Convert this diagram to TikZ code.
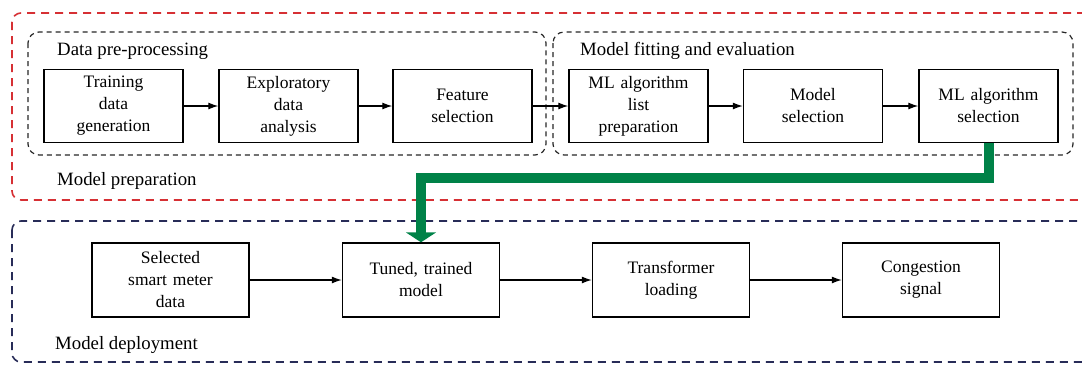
\documentclass[tikz,border=0pt]{standalone}
\usepackage{fontspec}
\setmainfont{Liberation Serif}
\usetikzlibrary{arrows.meta,positioning}
\definecolor{redd}{RGB}{214,48,52}
\definecolor{navyd}{RGB}{40,44,88}
\definecolor{greend}{RGB}{0,130,72}
\begin{document}
\begin{tikzpicture}[x=1pt,y=-1pt,
  procbox/.style={draw=black,line width=1.4pt,align=center,inner sep=2pt,
    font=\fontsize{17.5}{22}\selectfont},
  topbox/.style={procbox,minimum width=139pt,minimum height=73pt,text width=134pt},
  botbox/.style={procbox,minimum width=157pt,minimum height=74pt,text width=150pt},
  flow/.style={-{Latex[length=10pt,width=7pt]},line width=1.2pt},
  groupbox/.style={dash pattern=on 5pt off 4pt,line width=1.2pt,draw=black!85,rounded corners=11pt},
  outerred/.style={dash pattern=on 8pt off 6pt,line width=1.6pt,draw=redd,rounded corners=9pt},
  outernavy/.style={dash pattern=on 8pt off 6pt,line width=1.6pt,draw=navyd,rounded corners=9pt},
  lbl/.style={anchor=west,inner sep=0pt,font=\fontsize{18.8}{22}\selectfont},
  greenline/.style={draw=greend,line width=10pt,line join=miter,
    -{Triangle[length=10pt,width=30pt]}}
]
\useasboundingbox (0,0) rectangle (1082,365);
\begin{scope}
\clip (0,0) rectangle (1082,365);
% outer containers
\draw[outerred] (12,13) rectangle (1100,200);
\draw[outernavy] (12,221) rectangle (1100,362);
\end{scope}
% group containers
\draw[groupbox] (28,32) rectangle (546,155);
\draw[groupbox] (553,32) rectangle (1073,155);
% labels
\node[lbl] (lpre) at (57,51) {Data pre-processing};
\node[lbl] (lfit) at (580,51) {Model fitting and evaluation};
\node[lbl] (lprep) at (57,181) {Model preparation};
\node[lbl] (ldep) at (55,345) {Model deployment};
% top row
\node[topbox] (train) at (113.5,106) {Training\\data\\generation};
\node[topbox] (explo) at (288.5,106) {Exploratory\\data\\analysis};
\node[topbox] (feat)  at (462.5,106) {Feature\\selection};
\node[topbox] (mllist) at (638.5,106) {ML algorithm\\list\\preparation};
\node[topbox] (msel)  at (813,106) {Model\\selection};
\node[topbox] (mlsel) at (988.5,106) {ML algorithm\\selection};
% bottom row
\node[botbox] (smart) at (170.5,280) {Selected\\smart meter\\data};
\node[botbox] (tuned) at (421,280) {Tuned, trained\\model};
\node[botbox] (trans) at (671,280) {Transformer\\loading};
\node[botbox] (cong)  at (921,280) {Congestion\\signal};
% arrows
\draw[flow] (train) -- (explo);
\draw[flow] (explo) -- (feat);
\draw[flow] (feat) -- (mllist);
\draw[flow] (mllist) -- (msel);
\draw[flow] (msel) -- (mlsel);
\draw[flow] (smart) -- (tuned);
\draw[flow] (tuned) -- (trans);
\draw[flow] (trans) -- (cong);
% green link
\coordinate (gturn) at (0,178);
\draw[greenline] (mlsel.south) -- (mlsel.south |- gturn) -- (tuned.north |- gturn) -- (tuned.north);
\end{tikzpicture}
\end{document}
